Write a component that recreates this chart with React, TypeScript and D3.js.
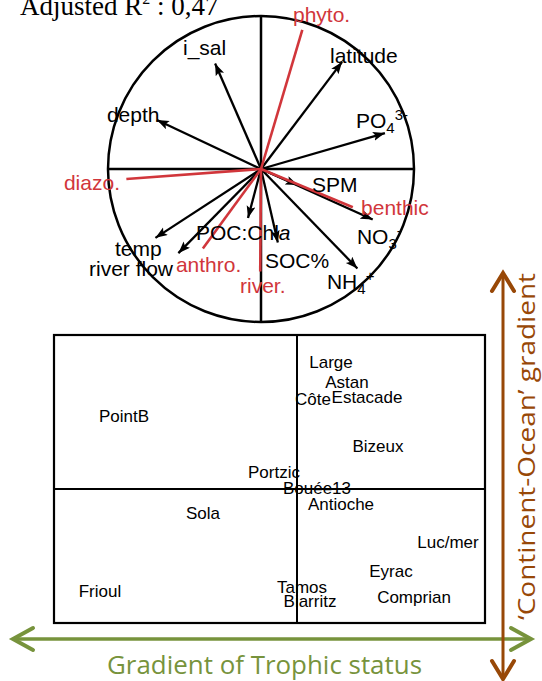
import React from "react";
import * as d3 from "d3";

// ---- data ----
const arrowNames = ["i_sal", "depth", "latitude", "PO4", "SPM", "NO3", "NH4", "SOC%", "POC:Chla", "temp", "river flow"];
const arrowX = [-0.30, -0.68, 0.53, 0.81, 0.24, 0.73, 0.63, 0.11, -0.085, -0.69, -0.54];
const arrowY = [0.69, 0.32, 0.70, 0.235, -0.105, -0.33, -0.65, -0.48, -0.32, -0.45, -0.55];

const groupNames = ["phyto.", "diazo.", "anthro.", "river.", "benthic"];
const groupX = [0.27, -0.88, -0.38, -0.005, 0.60];
const groupY = [0.91, -0.065, -0.52, -0.67, -0.25];

const siteNames = ["Large", "Astan", "Côte", "Estacade", "Bizeux", "PointB", "Portzic", "Bouée13", "Antioche", "Sola", "Luc/mer", "Eyrac", "Comprian", "Tamos", "Biarritz", "Frioul"];
const siteX = [0.34, 0.50, 0.16, 0.70, 0.81, -1.73, -0.23, 0.20, 0.44, -0.94, 1.51, 0.94, 1.17, 0.05, 0.13, -1.97];
const siteY = [1.27, 1.07, 0.90, 0.92, 0.43, 0.73, 0.17, 0.01, -0.15, -0.24, -0.53, -0.82, -1.08, -0.98, -1.12, -1.02];

const titleText = "Adjusted R";
const titleValue = " : 0,47";
const xGradientLabel = "Gradient of Trophic status";
const yGradientLabel = "\u2018Continent-Ocean\u2019  gradient";

// ---- layout (label anchors in loading units) ----
const arrowLabelX = [-0.51, -1.007, 0.451, 0.621, 0.333, 0.627, 0.431, 0.026, -0.425, -0.954, -1.124];
const arrowLabelY = [0.745, 0.307, 0.693, 0.268, -0.150, -0.490, -0.784, -0.647, -0.464, -0.569, -0.699];
const groupLabelX = [0.209, -1.288, -0.556, -0.137, 0.654];
const groupLabelY = [0.961, -0.137, -0.673, -0.810, -0.301];

const RED = "#d1363b";
const GREEN = "#77933c";
const BROWN = "#984807";
const SANS = "'Liberation Sans', Arial, sans-serif";

function ArrowLabel({ name, x, y }: { name: string; x: number; y: number }) {
  const fs = 21;
  if (name === "PO4") {
    return (
      <text x={x} y={y} fontSize={fs} fontFamily={SANS}>
        PO<tspan fontSize={15} dy={5}>4</tspan>
        <tspan fontSize={15} dy={-13}>3-</tspan>
      </text>
    );
  }
  if (name === "NO3") {
    return (
      <text x={x} y={y} fontSize={fs} fontFamily={SANS}>
        NO<tspan fontSize={15} dy={5}>3</tspan>
        <tspan fontSize={15} dy={-13}>-</tspan>
      </text>
    );
  }
  if (name === "NH4") {
    return (
      <text x={x} y={y} fontSize={fs} fontFamily={SANS}>
        NH<tspan fontSize={15} dy={5}>4</tspan>
        <tspan fontSize={15} dy={-13}>+</tspan>
      </text>
    );
  }
  if (name === "POC:Chla") {
    return (
      <text x={x} y={y} fontSize={fs} fontFamily={SANS}>
        POC:Chl<tspan fontStyle="italic">a</tspan>
      </text>
    );
  }
  return (
    <text x={x} y={y} fontSize={fs} fontFamily={SANS}>
      {name}
    </text>
  );
}

export default function App() {
  const W = 542;
  const H = 681;
  const cx = 261, cy = 169, r = 153;
  const lx = d3.scaleLinear().domain([-1, 1]).range([cx - r, cx + r]);
  const ly = d3.scaleLinear().domain([-1, 1]).range([cy + r, cy - r]);

  const box = { x0: 54, x1: 485, y0: 335, y1: 623 };
  const sx = d3.scaleLinear().domain([-2.43, 1.88]).range([box.x0, box.x1]);
  const sy = d3.scaleLinear().domain([-1.34, 1.54]).range([box.y1, box.y0]);

  const line = d3.line();

  const gy = 639, gl = 13, gr = 531;
  const bx = 503, bt = 273, bb = 679;

  return (
    <svg width={W} height={H} style={{ position: "absolute", left: 0, top: 0 }}>
      <defs>
        <marker id="ah" markerUnits="userSpaceOnUse" markerWidth={14} markerHeight={10} refX={12} refY={4.5} orient="auto">
          <path d="M0,0 L12,4.5 L0,9 L2.5,4.5 z" fill="#000" />
        </marker>
      </defs>
      <rect width={W} height={H} fill="#fff" />

      <text x={20} y={15} fontSize={27} fontFamily="'Liberation Serif', 'Times New Roman', serif">
        {titleText}
        <tspan fontSize={16} dy={-11}>2</tspan>
        <tspan dy={11}>{titleValue}</tspan>
      </text>

      <circle cx={cx} cy={cy} r={r} fill="none" stroke="#000" strokeWidth={2.5} />
      <line x1={lx(-1)} x2={lx(1)} y1={ly(0)} y2={ly(0)} stroke="#000" strokeWidth={2.5} />
      <line x1={lx(0)} x2={lx(0)} y1={ly(1)} y2={ly(-1)} stroke="#000" strokeWidth={2.5} />

      {arrowNames.map((n, i) => (
        <line key={n} x1={lx(0)} y1={ly(0)} x2={lx(arrowX[i])} y2={ly(arrowY[i])} stroke="#000" strokeWidth={2.3} markerEnd="url(#ah)" />
      ))}
      {groupNames.map((n, i) => (
        <line key={n} x1={lx(0)} y1={ly(0)} x2={lx(groupX[i])} y2={ly(groupY[i])} stroke={RED} strokeWidth={2.6} />
      ))}

      {arrowNames.map((n, i) => (
        <ArrowLabel key={n} name={n} x={lx(arrowLabelX[i])} y={ly(arrowLabelY[i])} />
      ))}
      {groupNames.map((n, i) => (
        <text key={n} x={lx(groupLabelX[i])} y={ly(groupLabelY[i])} fontSize={21} fontFamily={SANS} fill={RED}>
          {n}
        </text>
      ))}

      <rect x={box.x0} y={box.y0} width={box.x1 - box.x0} height={box.y1 - box.y0} fill="none" stroke="#000" strokeWidth={2.2} />
      <line x1={sx(0)} x2={sx(0)} y1={box.y0} y2={box.y1} stroke="#000" strokeWidth={2} />
      <line x1={box.x0} x2={box.x1} y1={sy(0)} y2={sy(0)} stroke="#000" strokeWidth={2} />
      {siteNames.map((n, i) => (
        <text key={n} x={sx(siteX[i])} y={sy(siteY[i])} textAnchor="middle" dominantBaseline="central" fontSize={17} fontFamily={SANS}>
          {n}
        </text>
      ))}

      <path d={line([[gl, gy], [gr, gy]]) || ""} stroke={GREEN} strokeWidth={3.5} fill="none" />
      <path d={line([[gl + 20, gy - 11], [gl, gy], [gl + 20, gy + 11]]) || ""} stroke={GREEN} strokeWidth={4} fill="none" strokeLinecap="round" />
      <path d={line([[gr - 20, gy - 11], [gr, gy], [gr - 20, gy + 11]]) || ""} stroke={GREEN} strokeWidth={4} fill="none" strokeLinecap="round" />
      <text x={(107 + 422) / 2} y={674} textAnchor="middle" fontSize={25} fontFamily="'Open Sans', sans-serif" fill={GREEN} textLength={315} lengthAdjust="spacingAndGlyphs">
        {xGradientLabel}
      </text>

      <path d={line([[bx, bt], [bx, bb]]) || ""} stroke={BROWN} strokeWidth={3} fill="none" />
      <path d={line([[bx - 11, bt + 18], [bx, bt], [bx + 11, bt + 18]]) || ""} stroke={BROWN} strokeWidth={4} fill="none" strokeLinecap="round" />
      <path d={line([[bx - 11, bb - 18], [bx, bb], [bx + 11, bb - 18]]) || ""} stroke={BROWN} strokeWidth={4} fill="none" strokeLinecap="round" />
      <text transform={`translate(535, ${(273 + 620) / 2}) rotate(-90)`} textAnchor="middle" fontSize={24} fontFamily="'Open Sans', sans-serif" fill={BROWN} textLength={347} lengthAdjust="spacingAndGlyphs">
        {yGradientLabel}
      </text>
    </svg>
  );
}
